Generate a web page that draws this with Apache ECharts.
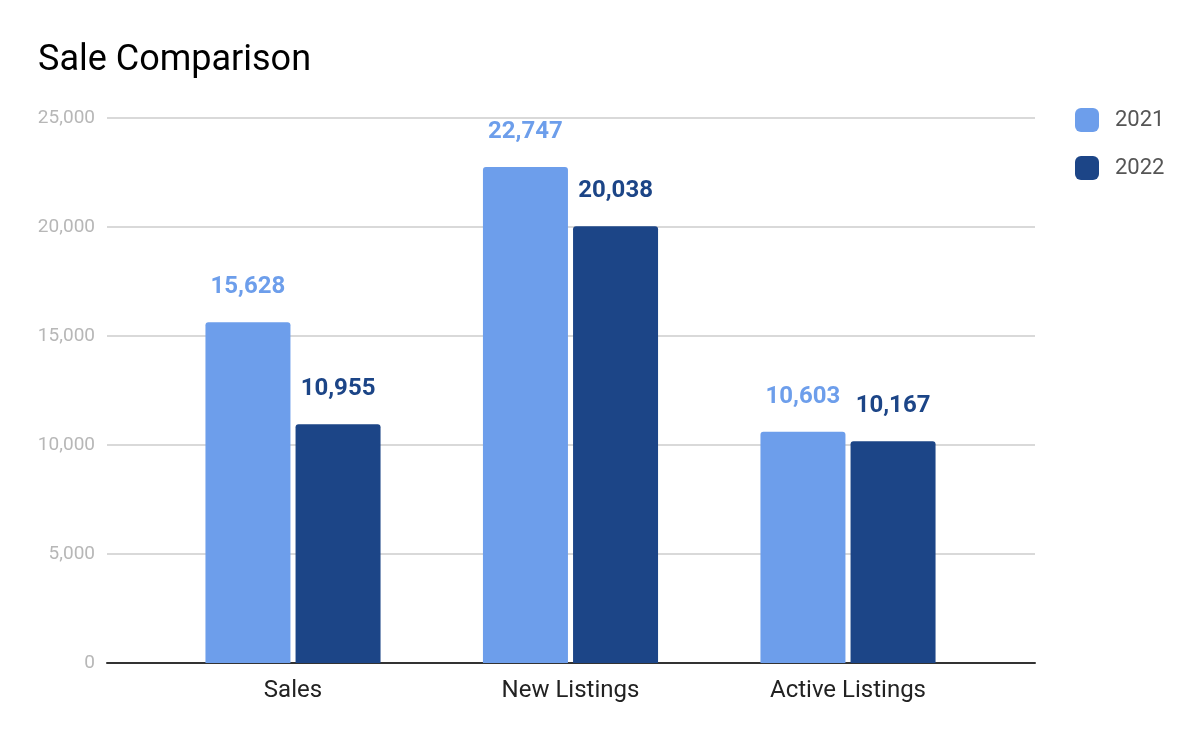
<!DOCTYPE html>
<html><head><meta charset="utf-8">
<script src="https://cdn.jsdelivr.net/npm/echarts@6/dist/echarts.min.js"></script>
<style>html,body{margin:0;padding:0;background:#fff}#c{width:1200px;height:742px}</style>
</head><body><div id="c"></div>
<script>
const categories = ['Sales', 'New Listings', 'Active Listings'];
const values2021 = [15628, 22747, 10603];
const values2022 = [10955, 20038, 10167];
const seriesNames = ['2021', '2022'];
const yTicks = [0, 5000, 10000, 15000, 20000, 25000];

const chart = echarts.init(document.getElementById('c'));
const fmt = v => v.toLocaleString('en-US');
const font = 'Roboto';
chart.setOption({
  animation: false,
  textStyle: { fontFamily: font },
  title: { text: 'Sale Comparison', left: 33, top: 38, textStyle: { fontFamily: font, fontSize: 36, fontWeight: 'normal', color: '#000' } },
  legend: {
    orient: 'vertical', left: 1070, top: 103, itemWidth: 24, itemHeight: 24, itemGap: 24,
    icon: 'roundRect',
    textStyle: { fontFamily: font, fontSize: 22, color: '#555', padding: [0, 0, 0, 11] },
    data: seriesNames
  },
  grid: [
    { left: 107, right: 165, top: 118, bottom: 79, containLabel: false },
    { left: 154.25, right: 213.25, top: 118, bottom: 79, containLabel: false }
  ],
  xAxis: [
    { gridIndex: 0, type: 'category', data: categories, axisLine: { lineStyle: { color: '#333', width: 2 } }, axisTick: { show: false }, axisLabel: { show: false } },
    { gridIndex: 1, type: 'category', data: categories, axisLine: { show: false }, axisTick: { show: false },
      axisLabel: { fontFamily: font, fontSize: 24, color: '#222', margin: 16 } }
  ],
  yAxis: [
    { gridIndex: 0, type: 'value', min: yTicks[0], max: yTicks[yTicks.length - 1], interval: yTicks[1] - yTicks[0],
      axisLine: { show: false }, axisTick: { show: false },
      axisLabel: { fontFamily: font, fontSize: 19, color: '#b7b7b7', margin: 12, formatter: v => fmt(v) },
      splitLine: { lineStyle: { color: '#cccccc', width: 1.5 } } },
    { gridIndex: 1, type: 'value', min: yTicks[0], max: yTicks[yTicks.length - 1], interval: yTicks[1] - yTicks[0], show: false, splitLine: { show: false } }
  ],
  series: [
    { name: seriesNames[0], type: 'bar', xAxisIndex: 1, yAxisIndex: 1, data: values2021, barWidth: 85, barGap: '6%',
      itemStyle: { color: '#6d9eeb', borderRadius: [3, 3, 0, 0] },
      label: { show: true, position: 'top', distance: 23, fontFamily: font, fontSize: 24, fontWeight: 'bold', color: '#6d9eeb', formatter: p => fmt(p.value) } },
    { name: seriesNames[1], type: 'bar', xAxisIndex: 1, yAxisIndex: 1, data: values2022, barWidth: 85, barGap: '6%',
      itemStyle: { color: '#1c4587', borderRadius: [3, 3, 0, 0] },
      label: { show: true, position: 'top', distance: 23, fontFamily: font, fontSize: 24, fontWeight: 'bold', color: '#1c4587', formatter: p => fmt(p.value) } }
  ]
});
</script></body></html>
